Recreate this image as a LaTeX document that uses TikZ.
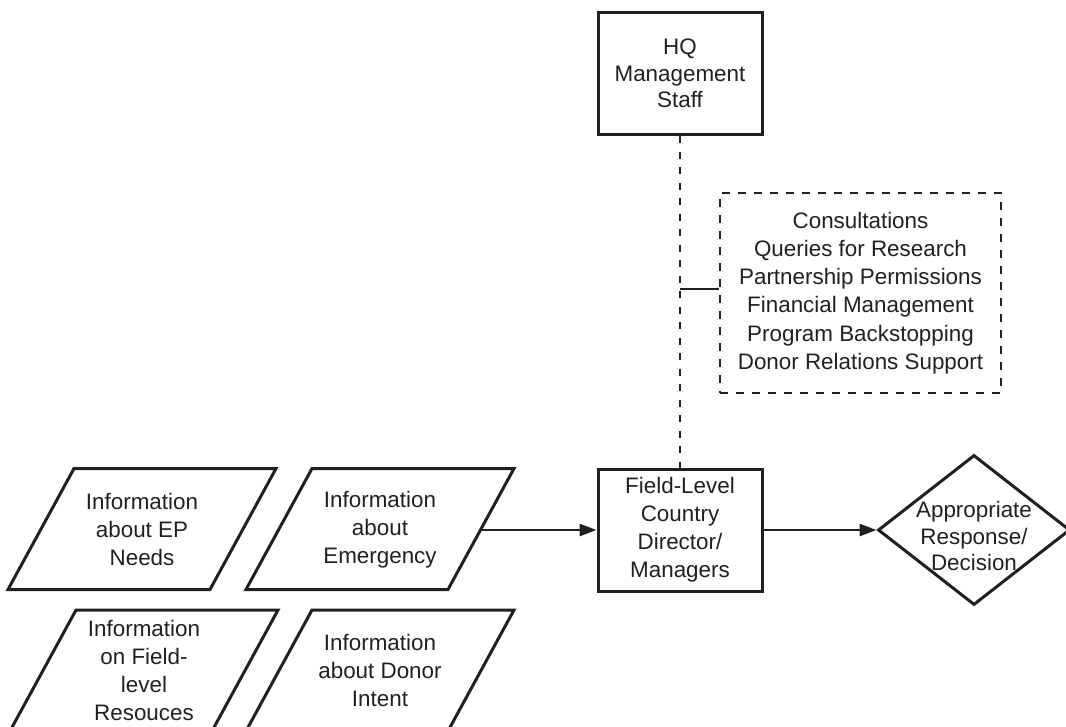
\documentclass[tikz,border=0pt]{standalone}
\usepackage{fontspec}
\setmainfont{Liberation Sans}
\usetikzlibrary{arrows.meta,shapes.geometric}
\definecolor{ink}{RGB}{35,31,32}
\tikzset{
  every node/.style={text=ink},
  txt/.style={align=center, font=\fontsize{22.4}{28}\selectfont, inner sep=0pt},
  txttight/.style={align=center, font=\fontsize{22.4}{26.5}\selectfont, inner sep=0pt},
  solidbox/.style={draw=ink, line width=3pt, rectangle, minimum width=164pt, minimum height=122pt},
  dashbox/.style={draw=ink, line width=2.8pt, rectangle, dash pattern=on 8pt off 8pt, minimum width=281pt, minimum height=200pt},
  parabox/.style={draw=ink, line width=3pt, line join=miter},
  diabox/.style={draw=ink, line width=3pt, diamond, minimum width=192pt, minimum height=150pt, inner sep=0pt},
  dashline/.style={draw=ink, line width=2.8pt, dash pattern=on 7pt off 8.5pt},
  solidline/.style={draw=ink, line width=2.8pt},
  arr/.style={draw=ink, line width=2.8pt, -{Triangle[length=17pt,width=12pt]}}
}
\begin{document}
\begin{tikzpicture}[x=1pt,y=-1pt]
\useasboundingbox (0,0) rectangle (1066,726);
\clip (0,0) rectangle (1066,726);

% main boxes
\node[solidbox, txttight] (hq) at (680,73.5) {HQ\\Management\\Staff};
\node[solidbox, txt] (field) at (680,530) {Field-Level\\Country\\Director/\\Managers};
\node[dashbox, txt, font=\fontsize{22.4}{28.2}\selectfont] (dbox) at (860.5,293)
  {Consultations\\Queries for Research\\Partnership Permissions\\Financial Management\\Program Backstopping\\Donor Relations Support};
\node[diabox] (dia) at (974,530) {};
\node[txttight] (diatext) at ([yshift=-6pt]dia.center) {Appropriate\\Response/\\Decision};

% parallelograms
\node[txt] (p1) at (142,529.5) {Information\\about EP\\Needs};
\draw[parabox] (p1.center) ++(-68,-61) -- ++(202,0) -- ++(-66,121) -- ++(-202,0) -- cycle;
\node[txt] (p2) at (380,529.5) {Information\\about\\Emergency};
\draw[parabox] (p2.center) ++(-68,-61) -- ++(202,0) -- ++(-66,121) -- ++(-202,0) -- cycle;
\node[txt] (p3) at (144,670.5) {Information\\on Field-\\level\\Resouces};
\draw[parabox] (p3.center) ++(-68,-60.5) -- ++(202,0) -- ++(-66,121) -- ++(-202,0) -- cycle;
\node[txt] (p4) at (380,670.5) {Information\\about Donor\\Intent};
\draw[parabox] (p4.center) ++(-68,-60.5) -- ++(202,0) -- ++(-66,121) -- ++(-202,0) -- cycle;

% connectors
\coordinate (jn) at (680,289);
\coordinate (p2e) at (480,530);
\draw[dashline] (hq.south) -- (field.north);
\draw[solidline] (jn) -- (jn -| dbox.west);
\draw[arr] (p2e) -- (field.west);
\draw[arr] (field.east) -- (dia.west);
\end{tikzpicture}
\end{document}
